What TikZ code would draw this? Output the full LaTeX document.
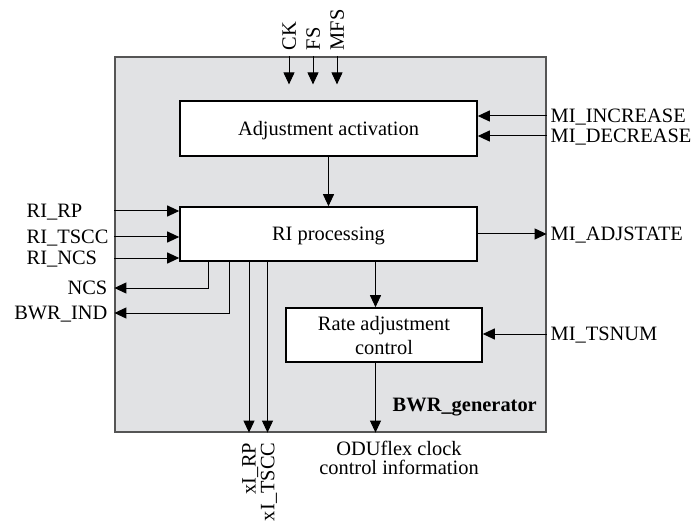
\documentclass[tikz,border=0pt]{standalone}
\usepackage{fontspec}
\setmainfont{Liberation Serif}
\usetikzlibrary{arrows.meta}

\begin{document}
\begin{tikzpicture}[x=1bp, y=-1bp, font=\fontsize{20.5}{24}\selectfont]

% Colori
\definecolor{colSfondo}{HTML}{E1E2E4}
\definecolor{colBordo}{HTML}{555555}

\tikzset{
  blocco/.style={draw, line width=1.6bp, fill=white, inner sep=0pt, align=center, text depth=0pt},
  etic/.style={inner sep=1.5bp, text depth=0pt},
  sig/.style={-{Triangle[length=12bp,width=11bp]}, line width=1bp}
}

\useasboundingbox (0,0) rectangle (697,522);

% Blocco esterno
\node[fill=colSfondo, draw=colBordo, line width=1.2bp, minimum width=431bp, minimum height=375bp, inner sep=0pt] (gen) at (330.5,244.5) {};
\node[anchor=base east, inner sep=0pt, font=\fontsize{20.5}{24}\selectfont\bfseries] (nome) at (537,411) {BWR\_generator};

% Blocchi interni
\node[blocco, minimum width=297bp, minimum height=55bp] (adj) at (328.5,128.5) {Adjustment activation};
\node[blocco, minimum width=297bp, minimum height=54bp] (ri) at (328.5,234) {RI processing};
\node[blocco, minimum width=196bp, minimum height=54bp] (rate) at (384,335) {Rate adjustment\\control};

% Ingressi in alto
\node[etic, rotate=90, anchor=west] (ck) at (289,52) {CK};
\node[etic, rotate=90, anchor=west] (fs) at (313,52) {FS};
\node[etic, rotate=90, anchor=west] (mfs) at (337,52) {MFS};
\draw[sig] (gen.north -| ck.west) -- ++(0,28);
\draw[sig] (gen.north -| fs.west) -- ++(0,28);
\draw[sig] (gen.north -| mfs.west) -- ++(0,28);

% Segnali a destra
\node[etic, anchor=west] (inc) at (549,116) {MI\_INCREASE};
\node[etic, anchor=west] (dec) at (549,136) {MI\_DECREASE};
\node[etic, anchor=west] (adjst) at (549,234) {MI\_ADJSTATE};
\node[etic, anchor=west] (tsnum) at (549,334) {MI\_TSNUM};
\draw[sig] (gen.east |- inc) -- (adj.east |- inc);
\draw[sig] (gen.east |- dec) -- (adj.east |- dec);
\draw[sig] (ri.east |- adjst) -- (gen.east |- adjst);
\draw[sig] (gen.east |- tsnum) -- (rate.east |- tsnum);

% Segnali a sinistra
\node[etic, anchor=west] (rirp) at (25,211) {RI\_RP};
\node[etic, anchor=west] (ritscc) at (25,237) {RI\_TSCC};
\node[etic, anchor=west] (rincs) at (25,258) {RI\_NCS};
\node[etic, anchor=east] (ncs) at (109,288) {NCS};
\node[etic, anchor=east] (bwrind) at (109,313) {BWR\_IND};
\draw[sig] (gen.west |- rirp) -- (ri.west |- rirp);
\draw[sig] (gen.west |- ritscc) -- (ri.west |- ritscc);
\draw[sig] (gen.west |- rincs) -- (ri.west |- rincs);
\coordinate (ncsout) at ([xshift=29bp]ri.south west);
\coordinate (bwrout) at ([xshift=50bp]ri.south west);
\draw[sig] (ncsout) |- (gen.west |- ncs);
\draw[sig] (bwrout) |- (gen.west |- bwrind);

% Uscite in basso
\node[etic, rotate=90, anchor=east] (xirp) at (249,441) {xI\_RP};
\node[etic, rotate=90, anchor=east] (xitscc) at (267.5,441) {xI\_TSCC};
\draw[sig] (ri.south -| xirp.east) -- (gen.south -| xirp.east);
\draw[sig] (ri.south -| xitscc.east) -- (gen.south -| xitscc.east);
\node[etic, anchor=north, align=center, font=\fontsize{20.5}{19}\selectfont] (odu) at (399,439) {ODUflex clock\\control information};

% Collegamenti interni
\draw[sig] (adj) -- (ri);
\coordinate (ratein) at ([xshift=-8.5bp]rate.north);
\coordinate (rateout) at ([xshift=-8.5bp]rate.south);
\draw[sig] (ri.south -| ratein) -- (ratein);
\draw[sig] (rateout) -- (gen.south -| rateout);

\end{tikzpicture}
\end{document}
